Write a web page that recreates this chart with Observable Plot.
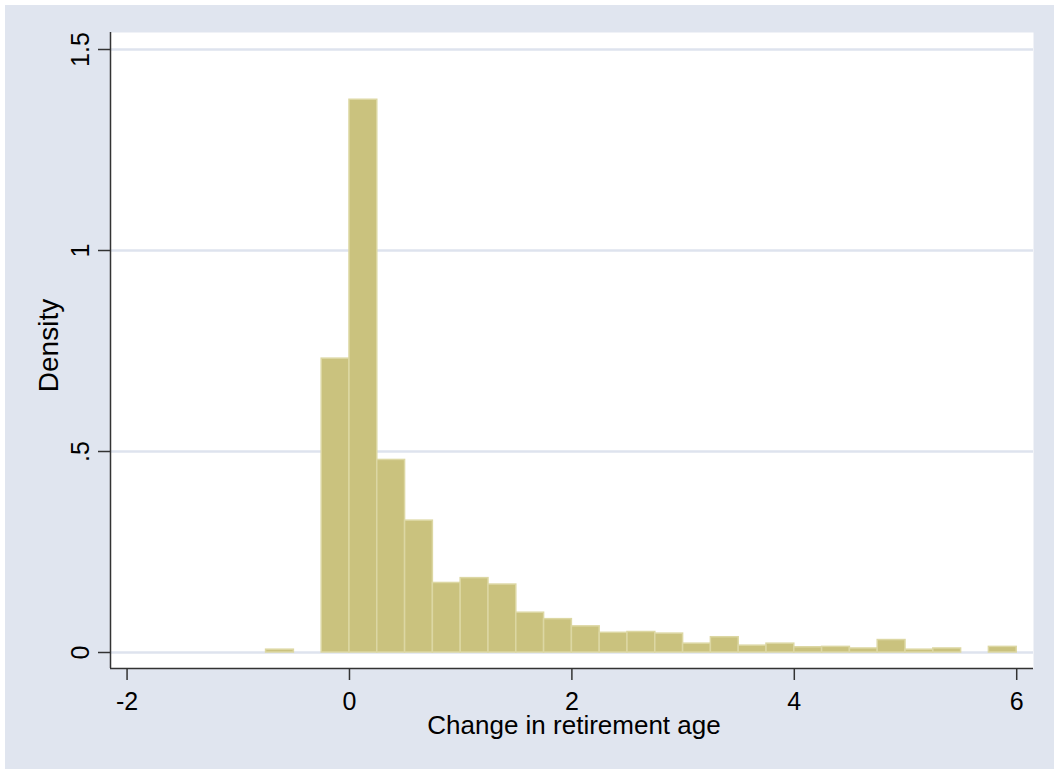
<!DOCTYPE html>
<html><head><meta charset="utf-8">
<script src="https://cdn.jsdelivr.net/npm/d3@7"></script>
<script src="https://cdn.jsdelivr.net/npm/@observablehq/plot@0.6"></script>
<style>
html,body{margin:0;padding:0;background:#ffffff;}
#wrap{position:relative;width:1054px;height:772px;overflow:hidden;}
#bg{position:absolute;left:5px;top:5px;width:1049px;height:764px;background:#e0e5ef;}
#chart{position:absolute;left:0;top:0;}
</style></head><body>
<div id="wrap"><div id="bg"></div><div id="chart"></div></div>
<script>
// Histogram bins (lower edges) and densities
const binStart = [-0.75, -0.5, -0.25, 0, 0.25, 0.5, 0.75, 1.0, 1.25, 1.5, 1.75, 2.0, 2.25, 2.5, 2.75, 3.0, 3.25, 3.5, 3.75, 4.0, 4.25, 4.5, 4.75, 5.0, 5.25, 5.5, 5.75];
const density  = [0.007, 0, 0.731, 1.375, 0.479, 0.328, 0.173, 0.185, 0.169, 0.099, 0.083, 0.065, 0.049, 0.051, 0.047, 0.022, 0.038, 0.017, 0.022, 0.013, 0.014, 0.010, 0.031, 0.007, 0.010, 0, 0.014];
const binWidth = 0.25;

const xTicks = [-2, 0, 2, 4, 6];
const xTickLabels = ["-2", "0", "2", "4", "6"];
const yTicks = [0, 0.5, 1, 1.5];
const yTickLabels = ["0", ".5", "1", "1.5"];
const xTitle = "Change in retirement age";
const yTitle = "Density";
const xDomain = [-2.149, 6.151];
const yDomain = [-0.0398, 1.5423];

const bins = binStart
  .map((s, i) => ({x1: s, x2: s + binWidth, y: density[i]}))
  .filter(d => d.y > 0);

const axisColor = "#333333";
const gridColor = "#dee3ee";
const font = "'Liberation Sans', Arial, Helvetica, sans-serif";

const chart = Plot.plot({
  width: 1054,
  height: 772,
  marginLeft: 110,
  marginRight: 21,
  marginTop: 32,
  marginBottom: 104,
  style: {background: "transparent", fontFamily: font, color: "#000"},
  x: {domain: xDomain},
  y: {domain: yDomain},
  marks: [
    Plot.frame({fill: "white", stroke: "none"}),
    Plot.ruleY(yTicks, {y: d => d, stroke: gridColor, strokeWidth: 2.5}),
    Plot.rectY(bins, {x1: "x1", x2: "x2", y: "y", fill: "#cac27e", stroke: "#dcd7a3", strokeWidth: 1.5}),
    Plot.ruleX([xDomain[0]], {stroke: axisColor, strokeWidth: 1.5}),
    Plot.ruleY([yDomain[0]], {stroke: axisColor, strokeWidth: 1.5}),
    Plot.axisX({ticks: xTicks, tickFormat: d => xTickLabels[xTicks.indexOf(d)], tickSize: 12, tickPadding: 12,
      fontSize: 25, label: null, stroke: axisColor, strokeWidth: 1.5, fill: "#000"}),
    Plot.axisY({ticks: yTicks, tickFormat: () => "", tickSize: 12, label: null, stroke: axisColor, strokeWidth: 1.5}),
    Plot.text(yTicks, {y: d => d, text: d => yTickLabels[yTicks.indexOf(d)], frameAnchor: "left", textAnchor: "middle",
      rotate: -90, dx: -30, fontSize: 25, fill: "#000"}),
    Plot.text([yTitle], {text: d => d, frameAnchor: "left", textAnchor: "middle", rotate: -90, dx: -61, dy: -5,
      fontSize: 28, fill: "#000"}),
    Plot.text([xTitle], {text: d => d, frameAnchor: "bottom", lineAnchor: "top", dx: 2, dy: 47, fontSize: 26, fill: "#000"})
  ]
});
document.getElementById("chart").appendChild(chart);
</script>
</body></html>
